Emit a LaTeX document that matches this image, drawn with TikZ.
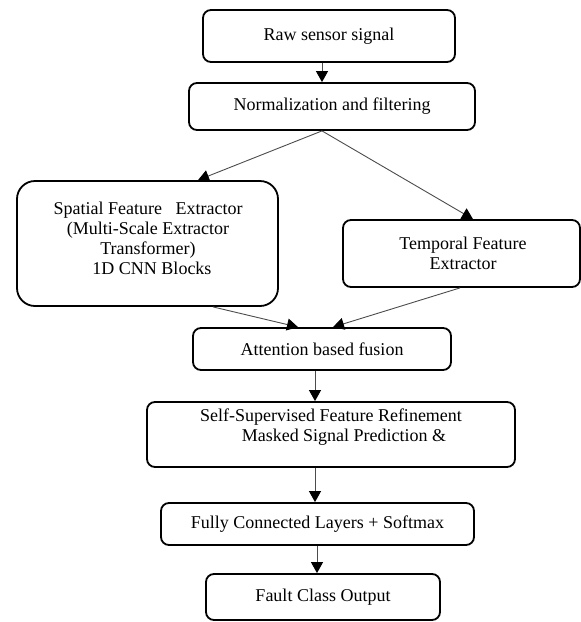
\documentclass[tikz,border=0pt]{standalone}
\usepackage{fontspec}
\setmainfont{Liberation Serif}
\usetikzlibrary{arrows.meta,calc}
\begin{document}
\begin{tikzpicture}[x=1pt,y=-1pt,
  box/.style={draw, line width=1.8pt, rounded corners=8pt, inner sep=0pt, align=center, font=\fontsize{18}{20}\selectfont},
  txt/.style={inner sep=0pt, align=center, font=\fontsize{18}{20}\selectfont},
  conn/.style={draw=black!70, line width=0.9pt, -{Triangle[length=11pt,width=12pt,color=black]}}]
\useasboundingbox (0,0) rectangle (581,622);
% boxes
\node[box, minimum width=252pt, minimum height=52pt] (raw) at (329,36) {Raw sensor signal};
\node[box, minimum width=286pt, minimum height=47pt] (norm) at (332,106.5) {Normalization and filtering};
\node[box, rounded corners=18pt, minimum width=261pt, minimum height=125pt] (spatial) at (147.5,243.5) {};
\node[txt] (spatialtxt) at (148,238.5) {Spatial Feature\ \ \ Extractor\\(Multi-Scale Extractor\\Transformer)\\\hspace*{8pt}1D CNN Blocks};
\node[box, minimum width=237pt, minimum height=67pt] (temp) at (461.5,253.5) {\hspace*{3pt}Temporal Feature\\\hspace*{3pt}Extractor};
\node[box, minimum width=258pt, minimum height=42pt] (att) at (322,349) {Attention based fusion};
\node[box, minimum width=368pt, minimum height=65pt] (ssfr) at (331,434.5) {};
\node[txt] (ssfrtxt) at (331,427.5) {Self-Supervised Feature Refinement\\\hspace*{26pt}Masked Signal Prediction \&};
\node[box, minimum width=313pt, minimum height=42pt] (fc) at (317.5,524) {Fully Connected Layers + Softmax};
\node[box, minimum width=234pt, minimum height=46pt] (fault) at (323,597) {Fault Class Output};
% x positions of connector ends
\coordinate (x1) at (322,0);
\coordinate (x2) at (198,0);
\coordinate (x3) at (473,0);
\coordinate (x4) at (213,0);
\coordinate (x5) at (298,0);
\coordinate (x6) at (460,0);
\coordinate (x7) at (333,0);
\coordinate (x8) at (315,0);
\coordinate (x9) at (317,0);
% connectors
\draw[conn] (raw.south -| x1) -- (norm.north -| x1);
\draw[conn] (norm.south -| x1) -- (spatial.north -| x2);
\draw[conn] (norm.south -| x1) -- (temp.north -| x3);
\draw[conn] (spatial.south -| x4) -- (att.north -| x5);
\draw[conn] (temp.south -| x6) -- (att.north -| x7);
\draw[conn] (att.south -| x8) -- (ssfr.north -| x8);
\draw[conn] (ssfr.south -| x8) -- (fc.north -| x8);
\draw[conn] (fc.south -| x9) -- (fault.north -| x9);
\end{tikzpicture}
\end{document}
